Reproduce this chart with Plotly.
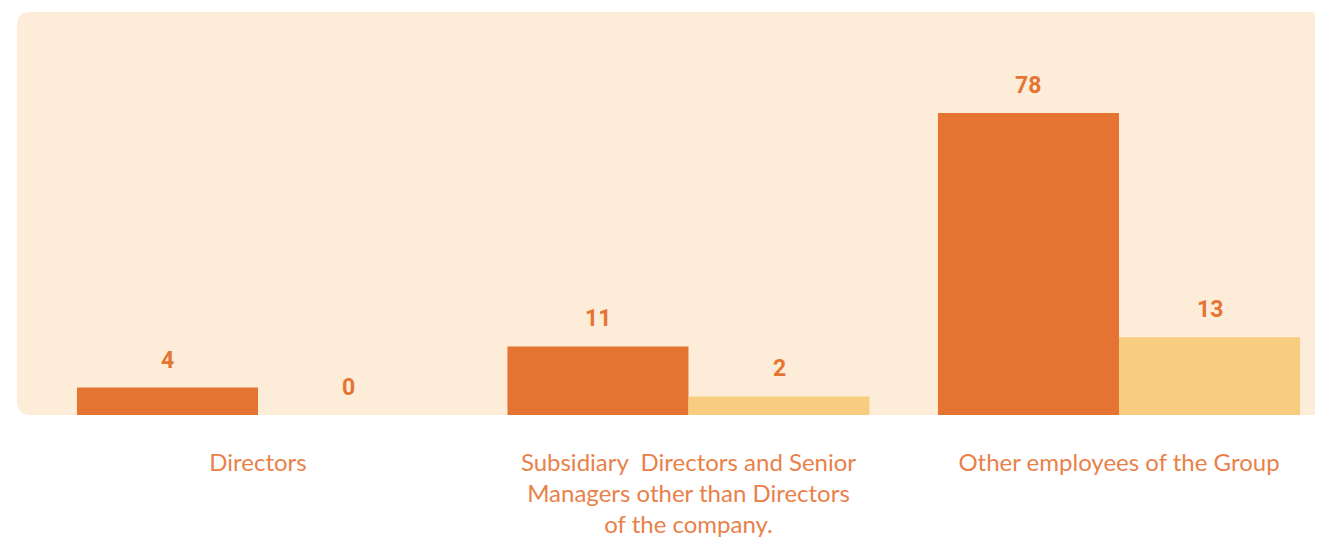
import plotly.graph_objects as go

# ---- data ----
categories = [
    "Directors",
    "Subsidiary  Directors and Senior<br>Managers other than Directors<br>of the company.",
    "Other employees of the Group",
]
# numbers printed on the bars
labels_a = [4, 11, 78]
labels_b = [0, 2, 13]
# bar lengths (scale where the tallest bar = 78)
heights_a = [7.1, 17.7, 78]
heights_b = [0, 4.8, 20.1]

ORANGE = "#E57433"
LIGHT = "#F9CD80"
PEACH = "#FCECD8"
TEXT_ORANGE = "#E9814A"

# page body has an 8px margin, so the figure starts at (8, 8)
W, H = 1323, 532
ML, MR, MT, MB = 9, 8, 4, 124.5
BARGAP = 0.159

x_pos = list(range(len(categories)))
half = (1 - BARGAP) / 4  # centre offset of each bar inside its group

fig = go.Figure()
fig.add_trace(go.Bar(x=x_pos, y=heights_a, marker=dict(color=ORANGE, line=dict(width=0)),
                     hoverinfo="skip", showlegend=False))
fig.add_trace(go.Bar(x=x_pos, y=heights_b, marker=dict(color=LIGHT, line=dict(width=0)),
                     hoverinfo="skip", showlegend=False))

annotations = []
for i in x_pos:
    for off, h, lab in ((-half, heights_a[i], labels_a[i]), (half, heights_b[i], labels_b[i])):
        annotations.append(dict(
            x=i + off, y=h, xref="x", yref="y", text=str(lab), showarrow=False,
            yanchor="bottom", xanchor="center", yshift=12,
            font=dict(family="Roboto, Arial, sans-serif", size=23, color=ORANGE, weight=700),
        ))

# rounded background panel in paper coords
pw = W - ML - MR
ph = H - MT - MB
r = 14
rx, ry = r / pw, r / ph
path = (f"M {rx},0 L {1-rx},0 Q 1,0 1,{ry} L 1,{1-ry} Q 1,1 {1-rx},1 "
        f"L {rx},1 Q 0,1 0,{1-ry} L 0,{ry} Q 0,0 {rx},0 Z")

fig.update_layout(
    width=W, height=H,
    margin=dict(l=ML, r=MR, t=MT, b=MB, pad=0, autoexpand=False),
    paper_bgcolor="white", plot_bgcolor="rgba(0,0,0,0)",
    barmode="group", bargap=BARGAP, bargroupgap=0,
    shapes=[dict(type="path", path=path, xref="paper", yref="paper",
                 fillcolor=PEACH, line=dict(width=0), layer="below")],
    annotations=annotations,
    xaxis=dict(
        range=[-0.5598, 2.4739], tickvals=x_pos, ticktext=categories,
        showgrid=False, zeroline=False, showline=False, ticks="",
        tickfont=dict(family="Lato, 'Open Sans', sans-serif", size=24, color=TEXT_ORANGE, weight=400),
        ticklabelstandoff=31, fixedrange=True, automargin=False,
    ),
    yaxis=dict(range=[0, 104.05], visible=False, fixedrange=True, automargin=False),
)

fig.write_html("out.html", config={"displayModeBar": False})
